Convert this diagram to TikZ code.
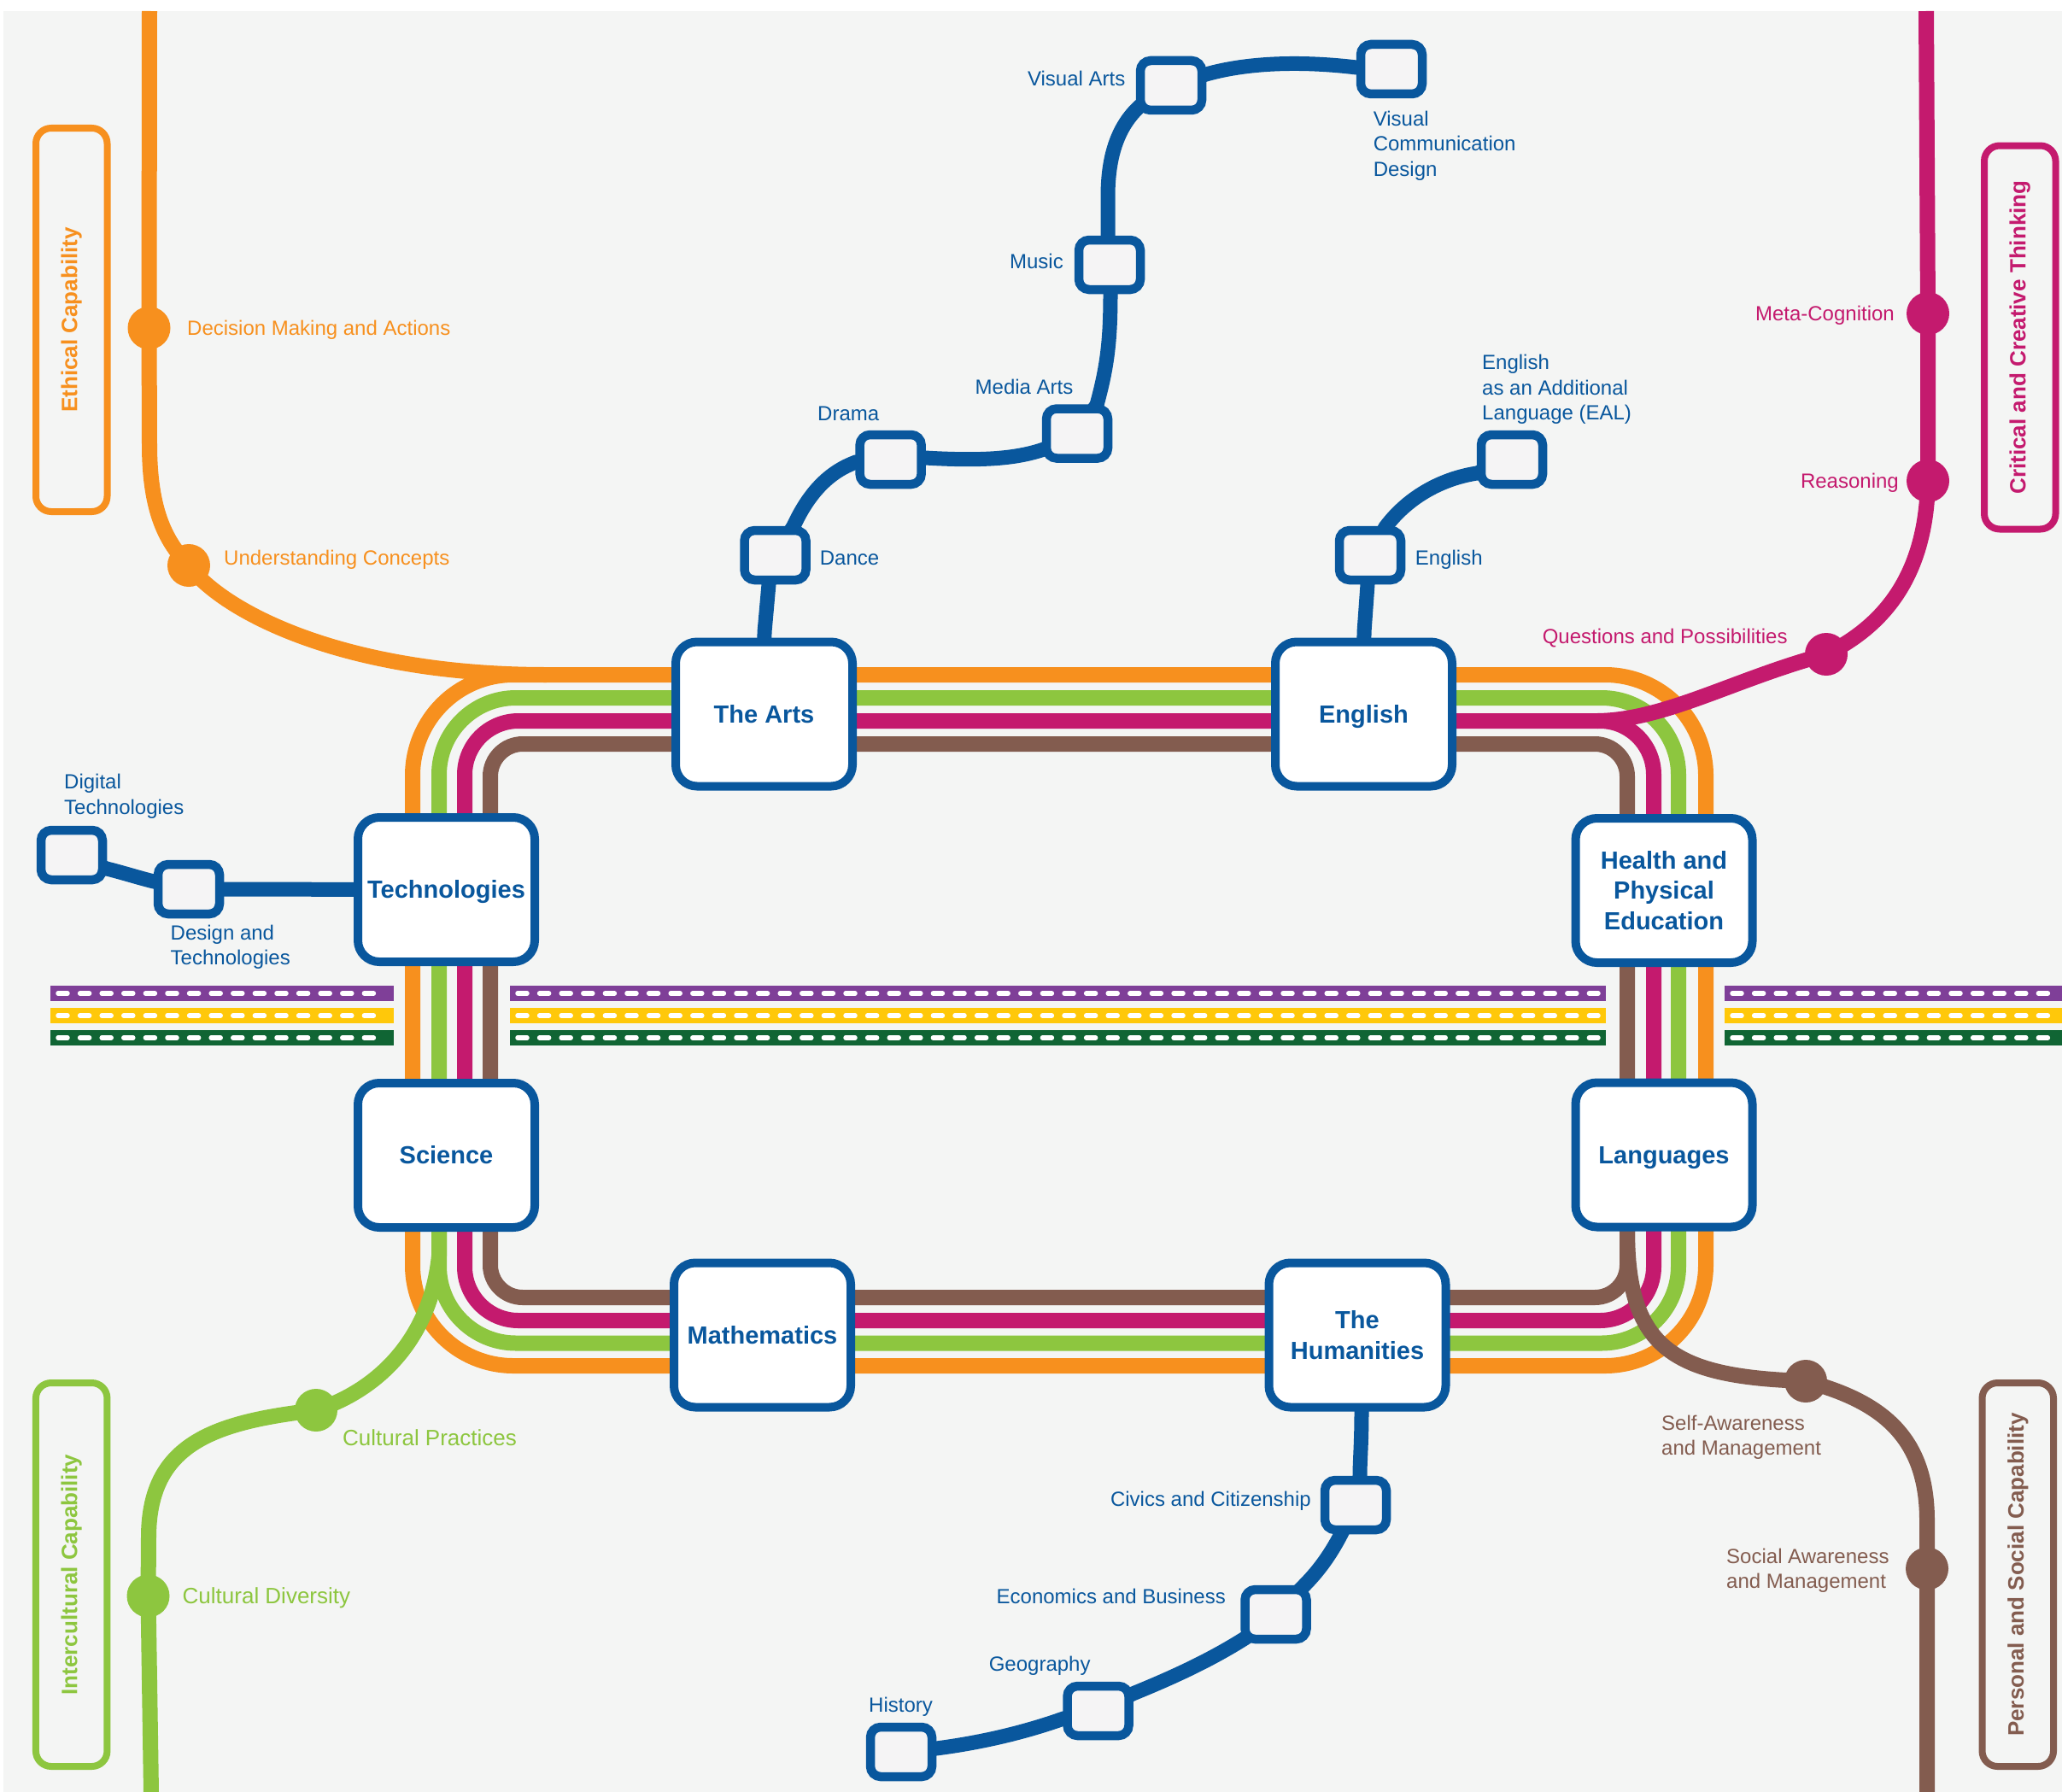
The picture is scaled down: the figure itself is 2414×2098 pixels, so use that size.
\documentclass[tikz,border=0pt]{standalone}
\usepackage{fontspec}
\setmainfont{Liberation Sans}
\definecolor{cbg}{RGB}{244,245,244}
\definecolor{stfill}{RGB}{245,244,245}
\definecolor{corange}{RGB}{247,144,30}
\definecolor{cgreen}{RGB}{141,198,63}
\definecolor{cmagenta}{RGB}{196,26,110}
\definecolor{cbrown}{RGB}{131,92,79}
\definecolor{cblue}{RGB}{9,87,157}
\definecolor{cpurple}{RGB}{127,63,152}
\definecolor{cyellow}{RGB}{255,200,10}
\definecolor{cdkgreen}{RGB}{16,101,52}
\pgfdeclarelayer{bgl}
\pgfdeclarelayer{lines}
\pgfsetlayers{bgl,lines,main}
\tikzset{
  mainbox/.style={draw=cblue,line width=10pt,fill=white,rounded corners=25pt,
    minimum width=207pt,minimum height=169pt,inner sep=0pt,text=cblue,align=center,
    font=\fontsize{29}{35.5}\selectfont\bfseries},
  onebox/.style={mainbox,text height=20.8pt,text depth=0pt},
  stationbox/.style={draw=cblue,line width=10.5pt,fill=stfill,rounded corners=12pt,
    minimum width=72pt,minimum height=58pt,inner sep=0pt},
  stopdot/.style={circle,fill=#1,draw=none,minimum size=50pt,inner sep=0pt},
  lbl/.style={inner sep=0pt,text=#1,font=\fontsize{24}{29.3}\selectfont},
  lblg/.style={inner sep=0pt,text=#1,font=\fontsize{26}{30}\selectfont},
  lblm/.style={inner sep=0pt,text=#1,align=left,font=\fontsize{24}{29.3}\selectfont},
  capbox/.style={draw=#1,line width=8pt,rounded corners=18pt,rotate=90,
    minimum width=449pt,minimum height=83.5pt,inner sep=0pt,text=#1,
    font=\fontsize{26}{30}\selectfont\bfseries},
  loopline/.style={line width=18pt,draw=#1},
  branchline/.style={line width=18pt,draw=#1},
  blueline/.style={line width=17pt,draw=cblue},
  dashbase/.style={line width=18pt,draw=#1},
  dashwhite/.style={line width=5.5pt,draw=white,line cap=round,dash pattern=on 11pt off 14.6pt},
}
\begin{document}
\begin{tikzpicture}[x=1pt,y=-1pt]
\useasboundingbox (0,0) rectangle (2414,2098);
\begin{pgfonlayer}{bgl}
  \fill[white] (0,0) rectangle (2414,2098);
  \fill[cbg] (4,13) rectangle (2414,2098);
\end{pgfonlayer}

% free ends
\coordinate (ectop) at (175,13);
\coordinate (ecjoin) at (640,790);
\coordinate (cctop) at (2255,13);
\coordinate (ccjoin) at (1870,844);
\coordinate (icjoin) at (514,1440);
\coordinate (icbot) at (177,2098);
\coordinate (psjoin) at (1905,1440);
\coordinate (psbot) at (2256,2098);

% main stations
\node[onebox] (arts) at (894.5,836) {The Arts};
\node[onebox] (english) at (1596.5,836) {English};
\node[onebox] (tech) at (522.5,1041.5) {Technologies};
\node[mainbox] (health) at (1948,1042.5) {Health and\\Physical\\Education};
\node[onebox] (science) at (522.5,1352.5) {Science};
\node[onebox] (lang) at (1948,1352) {Languages};
\node[onebox] (math) at (892.5,1563) {Mathematics};
\node[mainbox] (hum) at (1589,1563) {The\\Humanities};

% small stations
\node[stationbox] (visarts) at (1371,100) {};
\node[stationbox] (vcd) at (1629,81) {};
\node[stationbox] (music) at (1299,310) {};
\node[stationbox] (media) at (1261,507.5) {};
\node[stationbox] (drama) at (1042.6,538) {};
\node[stationbox] (dance) at (907.5,650) {};
\node[stationbox] (eal) at (1770,538) {};
\node[stationbox] (engs) at (1604,650) {};
\node[stationbox] (digi) at (84,1001) {};
\node[stationbox] (dandt) at (221,1041) {};
\node[stationbox] (civics) at (1587,1762) {};
\node[stationbox] (econ) at (1493.5,1890) {};
\node[stationbox] (geog) at (1285.5,2003) {};
\node[stationbox] (hist) at (1055,2051) {};

% capability stops
\node[stopdot=corange] (cdec) at (174.5,384) {};
\node[stopdot=corange] (cund) at (221,662) {};
\node[stopdot=cmagenta] (cmeta) at (2257,367) {};
\node[stopdot=cmagenta] (creas) at (2257,563) {};
\node[stopdot=cmagenta] (cques) at (2138,766) {};
\node[stopdot=cgreen] (cprac) at (370,1651) {};
\node[stopdot=cgreen] (cdiv) at (173.5,1868.5) {};
\node[stopdot=cbrown] (cself) at (2114,1617) {};
\node[stopdot=cbrown] (csoc) at (2256,1836.5) {};

% capability boxes
\node[capbox=corange] (ethical) at (83.75,374.5) {Ethical Capability};
\node[capbox=cmagenta] (critical) at (2364.75,395) {Critical and Creative Thinking};
\node[capbox=cgreen] (intercult) at (83.7,1843.5) {Intercultural Capability};
\node[capbox=cbrown] (personal) at (2362.25,1843.5) {Personal and Social Capability};

% labels
\node[lbl=corange,anchor=base west] (tdec) at (219,392.6) {Decision Making and Actions};
\node[lbl=corange,anchor=base west] (tund) at (262,661.6) {Understanding Concepts};
\node[lbl=cmagenta,anchor=base east] (tmeta) at (2218,375.6) {Meta-Cognition};
\node[lbl=cmagenta,anchor=base east] (treas) at (2223,571.2) {Reasoning};
\node[lbl=cmagenta,anchor=base west] (tques) at (1805.6,753.2) {Questions and Possibilities};
\node[lblg=cgreen,anchor=base west] (tprac) at (401,1692.5) {Cultural Practices};
\node[lblg=cgreen,anchor=base west] (tdiv) at (213.5,1877) {Cultural Diversity};
\node[lblm=cbrown,anchor=north west] (tself) at (1945,1656.4) {Self-Awareness\\and Management};
\node[lblm=cbrown,anchor=north west] (tsoc) at (2021,1812.4) {Social Awareness\\and Management};
\node[lbl=cblue,anchor=base east] (tvisarts) at (1317.5,100.6) {Visual Arts};
\node[lblm=cblue,anchor=north west] (tvcd) at (1607.6,130.1) {Visual\\Communication\\Design};
\node[lbl=cblue,anchor=base east] (tmusic) at (1245,314.6) {Music};
\node[lbl=cblue,anchor=base west] (tmedia) at (1141.5,461.6) {Media Arts};
\node[lbl=cblue,anchor=base west] (tdrama) at (957,492.6) {Drama};
\node[lbl=cblue,anchor=base west] (tdance) at (959.7,661.5) {Dance};
\node[lblm=cblue,anchor=north west] (teal) at (1735,415.4) {English\\as an Additional\\Language (EAL)};
\node[lbl=cblue,anchor=base west] (tengs) at (1656.7,661.5) {English};
\node[lblm=cblue,anchor=north west] (tdigi) at (75,906.1) {Digital\\Technologies};
\node[lblm=cblue,anchor=north west] (tdandt) at (199.5,1082.4) {Design and\\Technologies};
\node[lbl=cblue,anchor=base east] (tcivics) at (1535,1763.6) {Civics and Citizenship};
\node[lbl=cblue,anchor=base east] (tecon) at (1435,1877.6) {Economics and Business};
\node[lbl=cblue,anchor=base west] (tgeog) at (1157.6,1956.6) {Geography};
\node[lbl=cblue,anchor=base west] (thist) at (1017,2004) {History};

\begin{pgfonlayer}{lines}
  % dashed lines
  \foreach \a/\b in {59/461,597/1880,2019/2414}{
    \foreach \yy/\cc in {1163/cpurple,1189/cyellow,1215/cdkgreen}{
      \draw[dashbase=\cc] (\a,\yy) -- (\b,\yy);
      \draw[dashwhite] (\a+9,\yy) -- (\b-9,\yy);
    }
  }
  % loop lines
  \draw[loopline=corange,rounded corners=118pt] (483,790) rectangle (1997,1599);
  \draw[loopline=cgreen,rounded corners=90pt] (514,817) rectangle (1965,1572.5);
  \draw[loopline=cmagenta,rounded corners=63pt] (544,844) rectangle (1936,1546);
  \draw[loopline=cbrown,rounded corners=38pt] (574,871) rectangle (1905,1519);
  % capability branches
  \draw[branchline=corange] (ectop) -- (cdec.center) -- (175,520)
     .. controls (175,600) and (195,635) .. (cund.center)
     .. controls (260,715) and (400,790) .. (ecjoin);
  \draw[branchline=cgreen] (icjoin) -- (514,1470)
     .. controls (505,1560) and (450,1625) .. (cprac.center)
     .. controls (250,1665) and (174,1690) .. (174,1800) -- (cdiv.center) -- (icbot);
  \draw[branchline=cmagenta] (cctop) -- (cmeta.center) -- (creas.center)
     .. controls (2255,680) and (2200,735) .. (cques.center)
     .. controls (2030,795) and (1950,843) .. (ccjoin);
  \draw[branchline=cbrown] (psjoin)
     .. controls (1905,1580) and (1960,1612) .. (cself.center)
     .. controls (2200,1640) and (2256,1680) .. (2256,1780) -- (csoc.center) -- (psbot);
  % blue connectors
  \draw[blueline] (arts.center) -- (895,740) -- (900,684) -- (dance.center);
  \draw[blueline] (dance.center) -- (929,616) .. controls (948,575) and (972,552) .. (1002,541) -- (drama.center);
  \draw[blueline] (drama.center) -- (1083,536) .. controls (1150,540) and (1190,537) .. (1222,526) -- (media.center);
  \draw[blueline] (media.center) -- (1284,474) .. controls (1296,430) and (1300,400) .. (1300,344) -- (music.center);
  \draw[blueline] (music.center) -- (1297,276) -- (1297,230) .. controls (1297,180) and (1310,145) .. (1337,122) -- (visarts.center);
  \draw[blueline] (visarts.center) -- (1412,87) .. controls (1465,72) and (1530,72) .. (1588,79) -- (vcd.center);
  \draw[blueline] (english.center) -- (1597,740) -- (1601,684) -- (engs.center);
  \draw[blueline] (engs.center) -- (1622,617) .. controls (1650,580) and (1690,560) .. (1729,554) -- (eal.center);
  \draw[blueline] (hum.center) -- (1594,1652) .. controls (1594,1690) and (1592,1710) .. (1592,1728) -- (civics.center);
  \draw[blueline] (civics.center) -- (1570,1796) .. controls (1555,1825) and (1540,1843) .. (1525,1858) -- (econ.center);
  \draw[blueline] (econ.center) -- (1459,1917) .. controls (1415,1945) and (1370,1965) .. (1326,1983) -- (geog.center);
  \draw[blueline] (geog.center) -- (1245,2012) .. controls (1200,2028) and (1150,2040) .. (1096,2047) -- (hist.center);
  \draw[blueline] (tech.center) -- (dandt.center);
  \draw[blueline] (dandt.center) -- (180,1032) .. controls (160,1027) and (145,1022) .. (125,1017) -- (digi.center);
\end{pgfonlayer}
\end{tikzpicture}
\end{document}
